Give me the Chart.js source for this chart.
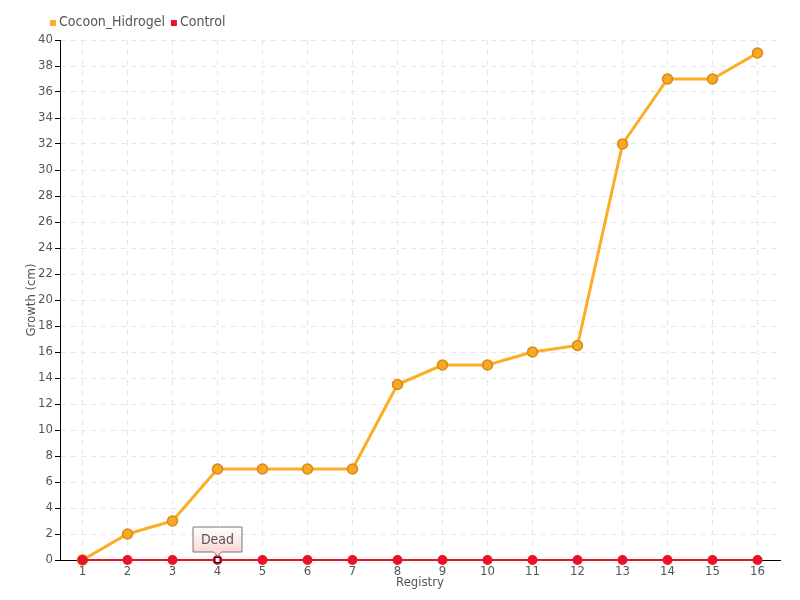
<!DOCTYPE html>
<html>
<head>
<meta charset="utf-8">
<script src="https://cdn.jsdelivr.net/npm/chart.js@4"></script>
<style>
  html, body { margin: 0; padding: 0; background: #fff; }
  #wrap { width: 800px; height: 600px; }
</style>
</head>
<body>
<div id="wrap"><canvas id="chart" width="800" height="600"></canvas></div>
<script>
// chart values
const registry = ['1', '2', '3', '4', '5', '6', '7', '8', '9', '10', '11', '12', '13', '14', '15', '16'];
const cocoonGrowth = [0, 2, 3, 7, 7, 7, 7, 13.5, 15, 15, 16, 16.5, 32, 37, 37, 39];
const controlGrowth = [0, 0, 0, 0, 0, 0, 0, 0, 0, 0, 0, 0, 0, 0, 0, 0];
const seriesNames = ['Cocoon_Hidrogel', 'Control'];
const deadIndex = 3;
const deadLabel = 'Dead';

const FONT = '"Liberation Sans Narrow", "DejaVu Sans Condensed", "Roboto", sans-serif';
const ORANGE = '#fdad24';
const RED = '#e8132a';

/**
 * Legend in the top-left corner plus the "Dead" callout
 */
const extras = {
    id: 'extras',
    afterDraw(chart) {
        const ctx = chart.ctx;
        ctx.save();

        // legend
        ctx.font = '14px ' + FONT;
        ctx.textBaseline = 'middle';
        ctx.textAlign = 'left';
        let x = 50;
        const y = 22;
        [ORANGE, RED].forEach((color, i) => {
            ctx.fillStyle = color;
            ctx.fillRect(x, y - 2, 6, 6);
            ctx.fillStyle = '#555';
            ctx.fillText(seriesNames[i], x + 9, y);
            x += 9 + ctx.measureText(seriesNames[i]).width + 6;
        });

        // dead marker
        const px = chart.scales.x.getPixelForValue(deadIndex);
        const py = chart.scales.y.getPixelForValue(controlGrowth[deadIndex]);
        ctx.fillStyle = '#fff';
        ctx.strokeStyle = '#000';
        ctx.lineWidth = 1;
        ctx.fillRect(px - 2.5, py - 2.5, 5, 5);
        ctx.strokeRect(px - 2.5, py - 2.5, 5, 5);

        // callout box
        const w = 49, h = 25;
        const bx = px - w / 2, by = py - 33;
        const grad = ctx.createLinearGradient(0, by, 0, by + h);
        grad.addColorStop(0, '#ffffff');
        grad.addColorStop(1, '#fcd6d6');
        ctx.beginPath();
        ctx.moveTo(bx, by);
        ctx.lineTo(bx + w, by);
        ctx.lineTo(bx + w, by + h);
        ctx.lineTo(px + 4, by + h);
        ctx.lineTo(px, by + h + 4);
        ctx.lineTo(px - 4, by + h);
        ctx.lineTo(bx, by + h);
        ctx.closePath();
        ctx.fillStyle = grad;
        ctx.fill();
        ctx.strokeStyle = '#777';
        ctx.stroke();
        ctx.fillStyle = '#555';
        ctx.textAlign = 'center';
        ctx.font = '14px ' + FONT;
        ctx.fillText(deadLabel, px, by + h / 2 + 1);

        ctx.restore();
    }
};

new Chart(document.getElementById('chart'), {
    type: 'line',
    data: {
        labels: registry,
        datasets: [
            {
                label: seriesNames[0],
                data: cocoonGrowth,
                borderColor: ORANGE,
                borderWidth: 3,
                backgroundColor: ORANGE,
                pointBackgroundColor: '#f9a826',
                pointBorderColor: '#d48a17',
                pointBorderWidth: 1.5,
                pointRadius: 5,
                tension: 0,
                clip: false,
                order: 2
            },
            {
                label: seriesNames[1],
                data: controlGrowth,
                borderColor: RED,
                borderWidth: 2,
                backgroundColor: RED,
                pointBackgroundColor: RED,
                pointBorderColor: RED,
                pointRadius: 4,
                tension: 0,
                clip: false,
                order: 1
            }
        ]
    },
    options: {
        responsive: false,
        animation: false,
        layout: { padding: { top: 40, right: 20, left: 24, bottom: 10 } },
        plugins: {
            legend: { display: false },
            tooltip: { enabled: false }
        },
        scales: {
            x: {
                offset: true,
                grid: { color: '#e6e6e6', tickColor: '#000', tickLength: 4, offset: false },
                border: { color: '#000', width: 1, dash: [5, 5] },
                ticks: { color: '#555', font: { family: FONT, size: 13 }, padding: 0, maxRotation: 0 },
                title: { display: true, text: 'Registry', color: '#555', font: { family: FONT, size: 13 }, padding: 0 },
                afterFit: s => { s.height = 30; }
            },
            y: {
                min: 0,
                max: 40,
                ticks: { stepSize: 2, color: '#555', font: { family: FONT, size: 13 }, padding: 2 },
                grid: { color: '#e6e6e6', tickColor: '#000', tickLength: 5 },
                border: { color: '#000', width: 1, dash: [5, 5] },
                title: { display: true, text: 'Growth (cm)', color: '#555', font: { family: FONT, size: 13 }, padding: 0 },
                afterFit: s => { s.width = 36; }
            }
        }
    },
    plugins: [extras]
});
</script>
</body>
</html>
